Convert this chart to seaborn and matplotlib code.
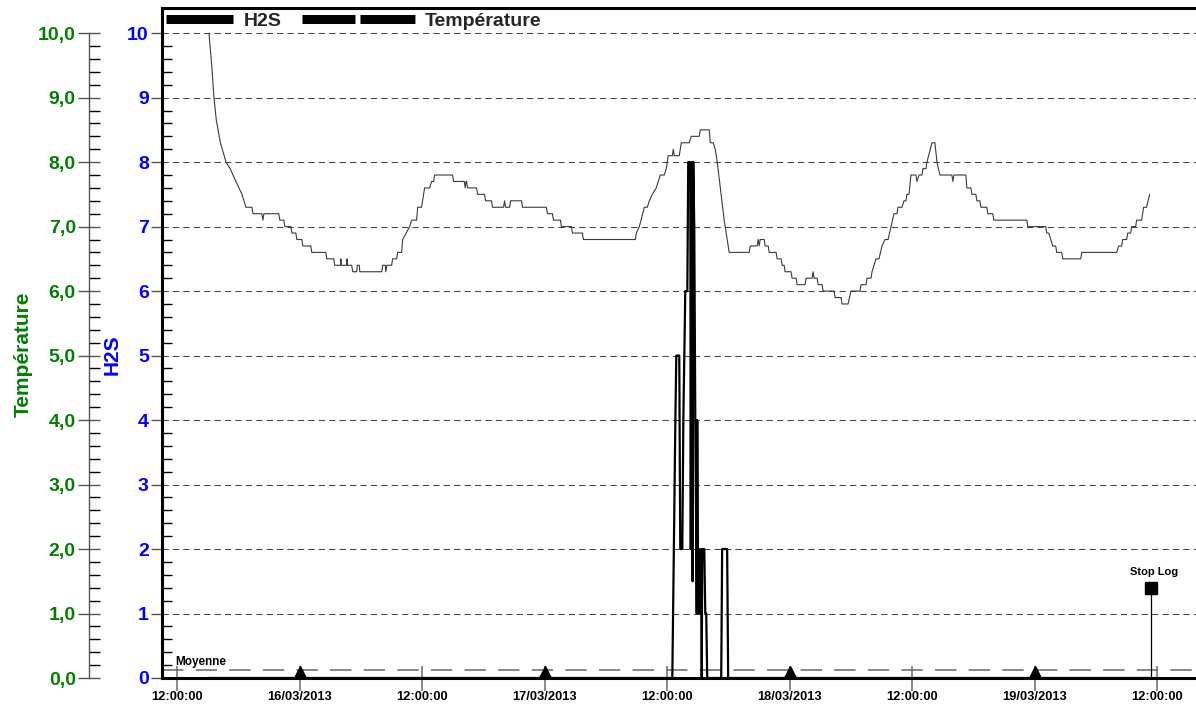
import matplotlib
matplotlib.use("Agg")
import matplotlib.pyplot as plt
import seaborn as sns
import numpy as np
from matplotlib.lines import Line2D
from matplotlib.ticker import FixedLocator, FuncFormatter

# ---------------- data (time in hours since 15/03/2013 00:00) ----------------
temp_hours = [15.13, 15.40, 15.62, 15.85, 16.25, 16.80, 17.20, 17.48, 17.77, 18.06, 18.36, 18.55, 18.75, 19.34,
              19.44, 20.31, 20.41, 20.51, 21.97, 22.07, 22.46, 22.56, 23.15, 23.25, 23.64, 23.74, 24.23, 24.32,
              25.10, 25.20, 26.57, 26.67, 27.35, 27.45, 28.00, 28.05, 28.10, 28.60, 28.65, 28.70, 29.11, 29.21,
              29.60, 29.65, 29.85, 29.90, 32.05, 32.15, 32.40, 32.45, 32.55, 33.02, 33.12, 33.51, 33.61, 34.00,
              34.10, 34.45, 34.79, 34.98, 35.47, 35.57, 35.95, 36.25, 36.74, 36.94, 37.13, 37.23, 38.99, 39.09,
              40.13, 40.23, 40.30, 40.36, 40.46, 41.34, 41.44, 42.12, 42.22, 42.80, 42.90, 43.98, 44.08, 44.18,
              44.57, 44.67, 45.74, 45.84, 48.18, 48.28, 48.77, 48.87, 49.55, 49.65, 50.63, 50.73, 51.70, 51.80,
              56.89, 56.99, 57.28, 57.77, 58.06, 58.26, 58.55, 58.94, 59.33, 59.72, 59.92, 60.11, 60.51, 60.61,
              60.70, 61.19, 61.39, 62.17, 62.36, 63.15, 63.25, 64.13, 64.23, 64.52, 64.71, 64.91, 65.59, 66.08,
              68.04, 68.14, 68.82, 68.92, 69.02, 69.12, 69.51, 69.60, 69.90, 70.00, 70.68, 70.78, 71.17, 71.27,
              71.46, 71.56, 72.14, 72.24, 72.63, 72.73, 73.51, 73.61, 74.20, 74.30, 74.40, 74.69, 74.79, 75.18,
              75.28, 76.35, 76.45, 77.04, 77.13, 77.72, 78.01, 78.89, 78.99, 79.48, 79.58, 79.97, 80.07, 80.46,
              80.75, 81.05, 81.34, 81.64, 81.93, 82.22, 82.51, 82.61, 83.00, 83.20, 83.39, 83.49, 83.69, 83.88,
              84.37, 84.47, 84.67, 84.96, 85.06, 85.35, 85.45, 85.94, 86.23, 86.43, 86.72, 87.89, 87.99, 88.09,
              89.26, 89.36, 89.75, 89.85, 90.24, 90.34, 90.63, 90.73, 91.31, 91.41, 91.90, 92.00, 95.23, 95.33,
              97.09, 97.18, 97.38, 97.58, 97.77, 98.06, 98.16, 98.65, 98.75, 100.51, 100.61, 104.03, 104.23,
              104.52, 104.62, 105.01, 105.11, 105.40, 105.50, 105.89, 105.99, 106.47, 106.67, 106.96, 107.26]
temp_values = [10.0, 9.5, 9.0, 8.65, 8.3, 8.0, 7.9, 7.8, 7.7, 7.6, 7.5, 7.4, 7.3, 7.3,
               7.2, 7.2, 7.1, 7.2, 7.2, 7.1, 7.1, 7.0, 7.0, 6.9, 6.9, 6.8, 6.8, 6.7,
               6.7, 6.6, 6.6, 6.5, 6.5, 6.4, 6.4, 6.5, 6.4, 6.4, 6.5, 6.4, 6.4, 6.3,
               6.3, 6.4, 6.4, 6.3, 6.3, 6.4, 6.4, 6.3, 6.4, 6.4, 6.5, 6.5, 6.6, 6.6,
               6.8, 6.9, 7.0, 7.1, 7.1, 7.3, 7.3, 7.6, 7.6, 7.7, 7.7, 7.8, 7.8, 7.7,
               7.7, 7.6, 7.7, 7.7, 7.6, 7.6, 7.5, 7.5, 7.4, 7.4, 7.3, 7.3, 7.4, 7.3,
               7.3, 7.4, 7.4, 7.3, 7.3, 7.2, 7.2, 7.1, 7.1, 7.0, 7.0, 6.9, 6.9, 6.8,
               6.8, 6.9, 7.0, 7.3, 7.3, 7.4, 7.5, 7.6, 7.8, 7.8, 7.9, 8.1, 8.1, 8.2,
               8.1, 8.1, 8.3, 8.3, 8.4, 8.4, 8.5, 8.5, 8.3, 8.3, 8.2, 8.0, 7.1, 6.6,
               6.6, 6.7, 6.7, 6.8, 6.7, 6.8, 6.8, 6.7, 6.7, 6.6, 6.6, 6.5, 6.5, 6.4,
               6.4, 6.3, 6.3, 6.2, 6.2, 6.1, 6.1, 6.2, 6.2, 6.3, 6.2, 6.2, 6.1, 6.1,
               6.0, 6.0, 5.9, 5.9, 5.8, 5.8, 6.0, 6.0, 6.1, 6.1, 6.2, 6.2, 6.3, 6.5,
               6.5, 6.7, 6.8, 6.8, 7.0, 7.2, 7.2, 7.3, 7.3, 7.4, 7.4, 7.5, 7.5, 7.8,
               7.8, 7.7, 7.8, 7.8, 7.9, 7.9, 8.0, 8.3, 8.3, 8.0, 7.8, 7.8, 7.7, 7.8,
               7.8, 7.6, 7.6, 7.5, 7.5, 7.4, 7.4, 7.3, 7.3, 7.2, 7.2, 7.1, 7.1, 7.0,
               7.0, 6.9, 6.9, 6.8, 6.7, 6.7, 6.6, 6.6, 6.5, 6.5, 6.6, 6.6, 6.7,
               6.7, 6.8, 6.8, 6.9, 6.9, 7.0, 7.0, 7.1, 7.1, 7.3, 7.3, 7.5]

h2s_hours = [15.13, 60.51, 60.81, 60.90, 61.19, 61.29, 61.49, 61.59, 61.78, 61.98, 62.07, 62.27, 62.32,
             62.37, 62.46, 62.50, 62.56, 62.66, 62.76, 62.86, 62.90, 62.95, 63.05, 63.15, 63.25, 63.35, 63.39,
             63.44, 63.64, 63.74, 63.83, 63.93, 65.30, 65.39, 65.88, 65.98, 107.40]
h2s_values = [0, 0, 4, 5, 5, 2, 2, 4, 6, 6, 8, 8, 2,
              7, 8, 1.5, 8, 7, 4, 2, 1, 4, 1, 2, 1, 2, 0,
              2, 2, 1, 1, 0, 0, 2, 2, 0, 0]

moyenne = 0.12
stop_hour = 107.40
stop_value = 1.40

tick_hours = [12, 24, 36, 48, 60, 72, 84, 96, 108]
tick_labels = ["12:00:00", "16/03/2013", "12:00:00", "17/03/2013", "12:00:00",
               "18/03/2013", "12:00:00", "19/03/2013", "12:00:00"]
date_hours = [24, 48, 72, 96]
y_ticks = list(range(0, 11))

# ---------------- style ----------------
sns.set_theme(style="white")
plt.rcParams["font.family"] = ["Liberation Sans", "DejaVu Sans"]
plt.rcParams["font.weight"] = "bold"
plt.rcParams["axes.labelweight"] = "bold"

BLUE = "#0000FF"
GREEN = "#008000"

fig = plt.figure(figsize=(11.96, 7.08), dpi=100)
ax = fig.add_axes([162 / 1196, 30 / 708, 1034 / 1196, 670 / 708])
ax2 = ax.twinx()

sns.lineplot(x=h2s_hours, y=h2s_values, ax=ax, color="black", lw=1.6,
             estimator=None, sort=False, zorder=3)
sns.lineplot(x=temp_hours, y=temp_values, ax=ax2, color="#3a3a3a", lw=0.8,
             estimator=None, sort=False, zorder=3)

YMAX = 10.39
ax.set_xlim(10.53, 111.8)
ax.set_ylim(0, YMAX)
ax2.set_ylim(0, YMAX)

# gridlines
ax.set_yticks(y_ticks)
ax.yaxis.grid(True, linestyle=(0, (6, 4)), color="#444444", lw=0.75)
ax.xaxis.grid(False)
ax.set_axisbelow(True)

minor_locs = np.round(np.arange(0, 10.001, 0.2), 2)

# H2S (blue) axis
ax.yaxis.set_minor_locator(FixedLocator(minor_locs))
ax.tick_params(axis="y", which="major", direction="out", length=8, width=1,
               color="#555555", labelcolor=BLUE, labelsize=14, pad=1.5, left=True)
ax.tick_params(axis="y", which="minor", direction="in", length=7.5, width=1,
               color="black", left=True)
ax.set_ylabel("H2S", color=BLUE, fontsize=15, fontweight="bold")
ax.yaxis.set_label_coords(-0.0387, 0.482)

# x axis
ax.set_xticks(tick_hours)
ax.set_xticklabels(tick_labels)
ax.tick_params(axis="x", which="major", direction="inout", length=18, width=1.2,
               color="#777777", labelsize=9.3, labelcolor="black", pad=0, bottom=True)
ax.set_xlabel("")

for s in ["left", "top", "bottom"]:
    ax.spines[s].set_linewidth(2.2)
    ax.spines[s].set_color("black")
ax.spines["right"].set_visible(False)

# Temperature (green) axis
ax2.yaxis.tick_left()
ax2.yaxis.set_label_position("left")
ax2.spines["left"].set_position(("outward", 52.6))
ax2.spines["left"].set_visible(True)
ax2.spines["left"].set_color("#555555")
ax2.spines["left"].set_linewidth(1)
ax2.spines["left"].set_bounds(0, 10)
for s in ["right", "top", "bottom"]:
    ax2.spines[s].set_visible(False)
ax2.set_yticks(y_ticks)
ax2.yaxis.set_major_formatter(FuncFormatter(lambda v, p: f"{v:.1f}".replace(".", ",")))
ax2.yaxis.set_minor_locator(FixedLocator(minor_locs))
ax2.tick_params(axis="y", which="major", direction="inout", length=16, width=1,
                color="#555555", labelcolor=GREEN, labelsize=14, pad=1.5, left=True, right=False)
ax2.tick_params(axis="y", which="minor", direction="in", length=8, width=1,
                color="black", left=True, right=False)
ax2.set_ylabel("Température", color=GREEN, fontsize=15, fontweight="bold")
ax2.yaxis.set_label_coords(-0.1248, 0.4836)
ax2.grid(False)

# Moyenne line
ax.axhline(moyenne, color="#666666", lw=1.1, linestyle=(0, (14, 8)), zorder=2)
ax.text(0.0126, moyenne + 0.035, "Moyenne", transform=ax.get_yaxis_transform(),
        fontsize=8.5, va="bottom", ha="left", color="black")

# date markers
ax.plot(date_hours, [0.09] * len(date_hours), ls="none", marker="^", ms=8,
        color="black", clip_on=False, zorder=6)

# Stop Log
ax.plot([stop_hour, stop_hour], [0, stop_value], color="black", lw=0.9, zorder=4)
ax.plot([stop_hour], [stop_value], marker="s", ms=9, color="black", ls="none", zorder=5)
ax.annotate("Stop Log", (stop_hour, stop_value), xytext=(2, 8), textcoords="offset points",
            ha="center", va="bottom", fontsize=8, color="black")

# legend
h1 = Line2D([], [], color="black", lw=6.5, solid_capstyle="butt")
leg1 = ax2.legend([h1], ["H2S"], loc="upper left", bbox_to_anchor=(0, 1), borderaxespad=0,
                  borderpad=0.2, frameon=False, handlelength=3.45, handletextpad=0.55,
                  prop={"size": 14, "weight": "bold"})
ax2.add_artist(leg1)
h2 = Line2D([], [], color="black", lw=6.5, linestyle=(0, (5.87, 0.55, 6.09, 8)),
            dash_capstyle="butt")
ax2.legend([h2], ["Température"], loc="upper left", bbox_to_anchor=(0.1319, 1), borderaxespad=0,
           borderpad=0.2, frameon=False, handlelength=5.81, handletextpad=0.5,
           prop={"size": 14, "weight": "bold"})

fig.savefig("out.png", dpi=100)
